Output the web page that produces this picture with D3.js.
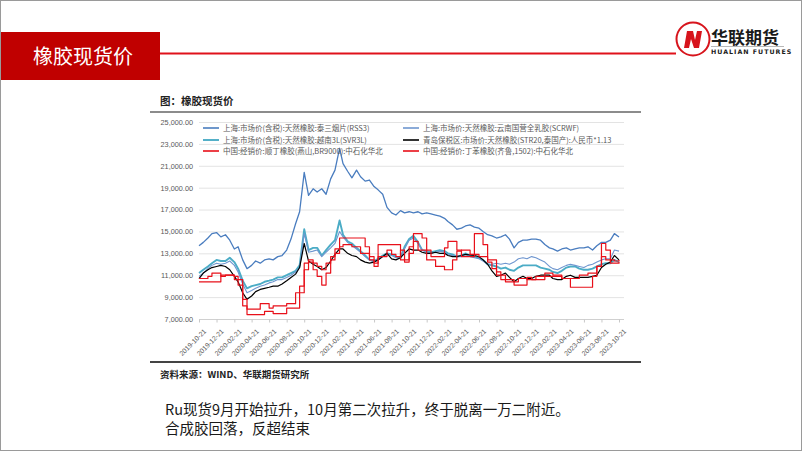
<!DOCTYPE html>
<html><head><meta charset="utf-8">
<script src="https://cdn.jsdelivr.net/npm/d3@7/dist/d3.min.js"></script>
<style>
html,body{margin:0;padding:0;background:#fff;}
svg{display:block;font-family:"Noto Sans CJK SC","Noto Sans",sans-serif;}
</style></head>
<body><svg id="c" width="802" height="451"></svg>
<script>
// ---- data (semi-monthly samples, 2019-10-21 .. 2023-10-21; 5th & 21st of each month) ----
const seriesNames = [
  "上海:市场价(含税):天然橡胶:泰三烟片(RSS3)",
  "上海:市场价:天然橡胶:云南国营全乳胶(SCRWF)",
  "上海:市场价(含税):天然橡胶:越南3L(SVR3L)",
  "青岛保税区:市场价:天然橡胶(STR20,泰国产):人民币*1.13",
  "中国:经销价:顺丁橡胶(燕山,BR9000):中石化华北",
  "中国:经销价:丁苯橡胶(齐鲁,1502):中石化华北"
];
const rss3 = [13700,14000,14400,14800,14900,14500,14700,14200,13400,13600,12400,11600,11900,12300,12100,12400,12500,12400,12700,12800,13300,14300,15700,16800,20400,18300,18900,18600,18900,18400,19800,20600,22600,21200,20500,19900,20600,20000,19600,19700,19100,18800,18400,17200,16700,16500,16900,16700,16800,16700,16800,16600,16700,16600,16500,16400,16200,15900,15600,15200,15300,15500,15600,15400,15300,15000,14700,14600,14400,14500,14700,14300,13500,14000,14200,14200,14300,14300,14200,13800,13500,13400,13200,13400,13500,13300,13400,13500,13500,13600,13300,13700,14000,14000,14200,14800,14500];
const scrwf = [10900,11200,11600,11900,12100,12000,12100,12300,11900,11300,10200,9400,9600,9800,10000,10100,10300,10400,10600,10600,10800,11000,11300,11700,14800,13100,13200,13300,12700,13100,13500,13900,15000,14500,14000,13700,13400,13100,12700,12400,12200,12400,12700,12900,12800,12600,12500,13400,14200,14400,13900,13300,13100,13000,13100,13200,13100,12900,12800,12700,12700,12900,12700,12600,12500,12300,12000,12000,12100,12000,12100,12000,12200,12500,12600,12500,12700,12600,12400,12200,11800,11600,11500,11700,11900,12000,11900,11800,11700,11900,12000,12200,12400,12500,12500,13300,13200];
const svr3l = [11200,11500,11800,12100,12400,12300,12300,12600,12200,11600,10500,9800,10000,10100,10200,10400,10500,10600,10800,10800,11000,11200,11400,11900,15200,13300,13500,13500,12800,13300,13800,14200,16000,14700,14100,13900,13500,13200,12800,12400,12300,12500,12800,13000,12900,12700,12600,13600,14300,14600,14000,13300,13200,13100,13200,13300,13200,13000,12900,12700,12800,13000,12800,12700,12600,12400,12000,11900,11800,11600,11700,11500,11400,11700,11900,11900,11900,11900,11700,11600,11500,11300,11200,11400,11700,11800,11800,11600,11500,11500,11600,11800,12000,12100,12100,12400,12200];
const str20 = [10700,11200,11500,11700,11800,11900,11800,11500,10900,10400,9400,8800,9100,9500,9700,9800,9900,10000,10000,10200,10500,10800,11100,11700,13900,12300,12000,11800,11500,11700,12300,12900,13400,13400,13000,12800,12700,12400,12200,12100,12200,12400,12700,13000,12500,12400,12600,13000,13400,13300,13300,13100,13000,13000,13100,13000,13000,12800,12700,12700,12800,12900,12850,12800,12700,12400,12000,11400,10900,11000,11200,10800,10400,10700,10900,10700,10700,10900,11000,11000,11000,10700,10600,10600,10900,11000,10800,10800,10800,10800,10900,11000,11700,12000,12200,12800,12400];
const br9000 = [10700,10700,10900,11200,11200,10900,11000,11000,10600,10600,8800,7900,7900,7900,8400,8400,8000,8200,8200,8200,8400,8400,9400,10000,12100,12200,11500,10900,10100,11200,12400,13000,14400,14400,14400,14400,14400,14400,13600,12400,11800,13800,13800,13800,13800,13800,12400,12200,13600,14800,14800,14400,13300,12700,12700,12700,13500,14100,14100,13300,12700,12700,12700,14800,14800,13800,12400,12400,11300,10600,10600,10600,10100,10100,10100,10800,10600,10600,10600,10900,10900,10900,10900,10700,10700,9900,9900,9900,9900,9900,10900,11800,13900,13300,12400,12300,12400];
const sbr1502 = [10400,10400,10400,10400,10400,11000,11000,11000,10900,10100,8200,7400,7400,7400,7400,7700,7700,7500,7500,7500,8000,8000,8000,9400,11500,12400,12100,11800,11500,12100,12700,13400,13600,13800,13800,13600,13600,13000,13000,12700,12100,12700,12700,13300,12900,12700,13300,12400,13000,14100,13300,13300,12400,12400,11800,11800,11500,11500,12400,13200,13300,13300,12900,12900,12700,12700,12200,11600,11000,11000,10400,10400,10400,10700,10700,10600,10600,10900,10900,11200,11200,11000,11000,10700,10700,10700,10700,11000,11000,11200,11200,11800,12700,12400,12100,12100,12200];
const yTicks = [7000,9000,11000,13000,15000,17000,19000,21000,23000,25000];
const xTickLabels = ["2019-10-21","2019-12-21","2020-02-21","2020-04-21","2020-06-21","2020-08-21","2020-10-21","2020-12-21","2021-02-21","2021-04-21","2021-06-21","2021-08-21","2021-10-21","2021-12-21","2022-02-21","2022-04-21","2022-06-21","2022-08-21","2022-10-21","2022-12-21","2023-02-21","2023-04-21","2023-06-21","2023-08-21","2023-10-21"];

// ---- build date grid (categories) ----
const parse = d3.timeParse("%Y-%m-%d");
const months = d3.timeMonth.range(new Date(2019,9,1), new Date(2023,10,1));
const dates = [];
months.forEach(m => { dates.push(new Date(m.getFullYear(), m.getMonth(), 5)); dates.push(new Date(m.getFullYear(), m.getMonth(), 21)); });
const grid = dates.filter(d => d >= parse("2019-10-21") && d <= parse("2023-10-21"));

const svg = d3.select("#c");
// page frame
svg.append("rect").attr("x",0.5).attr("y",0.5).attr("width",801).attr("height",450).attr("fill","#fff").attr("stroke","#9a9a9a");

// header
svg.append("rect").attr("x",1).attr("y",32).attr("width",159).attr("height",48).attr("fill","#C00000");
svg.append("text").attr("x",83).attr("y",64).attr("text-anchor","middle").attr("fill","#fff").attr("font-size",20).text("橡胶现货价");
svg.append("line").attr("x1",160).attr("x2",676).attr("y1",53.5).attr("y2",53.5).attr("stroke","#E0121B").attr("stroke-width",2.2);
// logo
const lg = svg.append("g");
lg.append("circle").attr("cx",693).attr("cy",39).attr("r",16.5).attr("fill","#fff").attr("stroke","#D7141C").attr("stroke-width",2);
lg.append("path").attr("d","M684,48 L687,31 L693,31 L695,40 L697,31 L702,31 L699,48 L694,48 L691,39 L689,48 Z").attr("fill","#D7141C");
lg.append("text").attr("x",711).attr("y",44).attr("font-size",17).attr("font-weight","bold").attr("fill","#1a1a1a").text("华联期货");
lg.append("line").attr("x1",711).attr("x2",784).attr("y1",46.5).attr("y2",46.5).attr("stroke","#888").attr("stroke-width",0.6);
lg.append("text").attr("x",711).attr("y",54).attr("font-size",6.3).attr("font-weight","bold").attr("letter-spacing",1).attr("fill","#1a1a1a").attr("font-family","DejaVu Sans, sans-serif").text("HUALIAN FUTURES");

// chart title and frame
svg.append("text").attr("x",160).attr("y",105).attr("font-size",10.5).attr("font-weight","bold").attr("fill","#222").text("图：橡胶现货价");
svg.append("line").attr("x1",150).attr("x2",641).attr("y1",112).attr("y2",112).attr("stroke","#666").attr("stroke-width",1.3);
svg.append("line").attr("x1",150).attr("x2",641).attr("y1",362).attr("y2",362).attr("stroke","#444").attr("stroke-width",2);
svg.append("text").attr("x",160).attr("y",378).attr("font-size",9.5).attr("font-weight","bold").attr("fill","#222").text("资料来源：WIND、华联期货研究所");

// scales
const x = d3.scaleTime().domain([parse("2019-10-21"), parse("2023-10-21")]).range([199, 619]);
const y = d3.scaleLinear().domain([7000, 25000]).range([319, 122]);

// gridlines
svg.append("g").selectAll("line").data(yTicks.slice(1)).join("line")
  .attr("x1",199).attr("x2",624).attr("y1",d=>y(d)+0.5).attr("y2",d=>y(d)+0.5)
  .attr("stroke","#e3e3e3").attr("stroke-width",1);

// y axis labels
const yAxis = d3.axisLeft(y).tickValues(yTicks).tickSize(0).tickPadding(6).tickFormat(d3.format(",.2f"));
const ya = svg.append("g").attr("transform","translate(199,0)").call(yAxis);
ya.select(".domain").remove();
ya.selectAll("text").attr("font-size",7.3).attr("fill","#595959").attr("font-family","Liberation Sans, Arial, sans-serif");

// x axis
const xAxis = d3.axisBottom(x).tickValues(xTickLabels.map(parse)).tickSize(3).tickFormat(d3.timeFormat("%Y-%m-%d"));
const xa = svg.append("g").attr("transform","translate(0,319.5)").call(xAxis);
xa.select(".domain").attr("stroke","#d0d0d0").attr("d","M199,0H624");
xa.selectAll(".tick line").attr("stroke","#c8c8c8");
xa.selectAll("text").attr("font-size",6.8).attr("fill","#595959").attr("font-family","Liberation Sans, Arial, sans-serif")
  .attr("text-anchor","end").attr("dy",0).attr("transform","translate(3,8) rotate(-45)");

// lines
const series = [
  {v: rss3,   c:"#4A7DBF", w:1.3, step:false},
  {v: scrwf,  c:"#6F96CF", w:1.1, step:false},
  {v: svr3l,  c:"#4BACC6", w:1.9, step:false},
  {v: str20,  c:"#000000", w:1.2, step:false},
  {v: br9000, c:"#E8101A", w:1.2, step:true},
  {v: sbr1502,c:"#E8101A", w:1.2, step:true}
];
const drawOrder = [0,2,1,3,4,5];
drawOrder.forEach(k => {
  const s = series[k];
  const ln = d3.line().x((d,i)=>x(grid[i])).y(d=>y(d)).curve(s.step ? d3.curveStepAfter : d3.curveLinear);
  svg.append("path").datum(s.v).attr("d",ln).attr("fill","none").attr("stroke",s.c).attr("stroke-width",s.w).attr("stroke-linejoin","round");
});

// legend
const legendPos = [[203,128],[403,128],[203,140],[403,140],[203,151],[403,151]];
const legendSeries = [0,1,2,3,4,5];
const lgd = svg.append("g");
legendSeries.forEach((k,j) => {
  const [lx,ly] = legendPos[j];
  const s = series[k];
  lgd.append("line").attr("x1",lx).attr("x2",lx+16).attr("y1",ly).attr("y2",ly).attr("stroke",s.c).attr("stroke-width",Math.max(1.6,s.w));
  lgd.append("text").attr("x",lx+20).attr("y",ly+3).attr("font-size",7.5).attr("fill","#595959").text(seriesNames[k]);
});

// commentary
svg.append("text").attr("x",165).attr("y",415).attr("font-size",14.5).attr("fill","#1a1a1a").text("Ru现货9月开始拉升，10月第二次拉升，终于脱离一万二附近。");
svg.append("text").attr("x",165).attr("y",434).attr("font-size",14.5).attr("fill","#1a1a1a").text("合成胶回落，反超结束");
</script></body></html>
